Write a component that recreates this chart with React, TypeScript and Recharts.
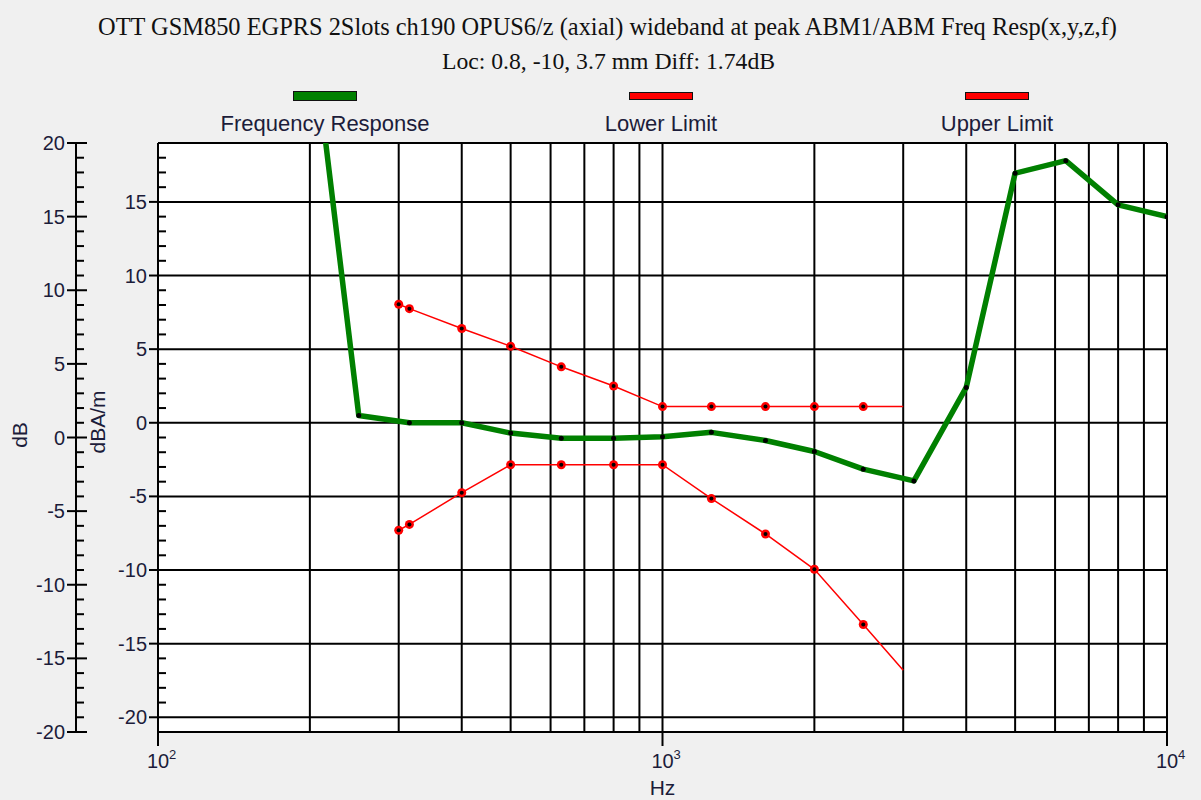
import React from 'react';
import { LineChart, Line, XAxis, YAxis, CartesianGrid } from 'recharts';

// third-octave frequencies of the measured response (Hz)
const respFreqs = [200, 250, 315, 400, 500, 630, 800, 1000, 1250, 1600, 2000, 2500, 3150, 4000, 5000, 6300, 8000, 10000];
const respDb = [27.9, 0.5, 0.0, 0.0, -0.7, -1.05, -1.05, -0.95, -0.65, -1.2, -1.95, -3.15, -3.95, 2.4, 16.95, 17.8, 14.8, 14.0];

const limitFreqs = [300, 315, 400, 500, 630, 800, 1000, 1250, 1600, 2000, 2500, 3000];
const lowerDb = [-7.3, -6.9, -4.75, -2.85, -2.85, -2.85, -2.85, -5.15, -7.55, -9.95, -13.7, -16.8];
const upperDb = [8.05, 7.75, 6.4, 5.2, 3.8, 2.5, 1.1, 1.1, 1.1, 1.1, 1.1, 1.1];

const xTicks = [100, 1000, 10000];
const xGrid = [100, 200, 300, 400, 500, 600, 700, 800, 900, 1000, 2000, 3000, 4000, 5000, 6000, 7000, 8000, 9000, 10000];
const innerGrid = [19, 15, 10, 5, 0, -5, -10, -15, -20, -21];
const innerTicks = Array.from({ length: 41 }, (_, i) => 19 - i);
const outerTicks = Array.from({ length: 41 }, (_, i) => 20 - i);

const respData = respFreqs.map((f, i) => ({ f, v: respDb[i] }));
const lowerData = limitFreqs.map((f, i) => ({ f, v: lowerDb[i] }));
const upperData = limitFreqs.map((f, i) => ({ f, v: upperDb[i] }));

const SANS = '"Liberation Sans", Arial, sans-serif';
const SERIF = '"Liberation Serif", "Times New Roman", serif';
const TXT = '#1c1c3a';

const InnerTick = ({ x, y, payload }: any) => {
  const v = payload.value;
  if (v === 19 || v === -21) return <g />;
  const major = v % 5 === 0;
  return (
    <g>
      {major ? (
        <>
          <line x1={x - 9} x2={x} y1={y} y2={y} stroke="#000" strokeWidth={2} />
          <text x={x - 11} y={y} dy={7} textAnchor="end" fontFamily={SANS} fontSize={20} fill={TXT}>{v}</text>
        </>
      ) : (
        <line x1={x} x2={x + 8} y1={y} y2={y} stroke="#000" strokeWidth={2} />
      )}
    </g>
  );
};

const OuterTick = ({ x, y, payload }: any) => {
  const v = payload.value;
  const major = v % 5 === 0;
  return (
    <g>
      {major ? (
        <>
          <line x1={x - 9} x2={x + 11} y1={y} y2={y} stroke="#000" strokeWidth={2} />
          <text x={x - 11} y={y} dy={7} textAnchor="end" fontFamily={SANS} fontSize={20} fill={TXT}>{v}</text>
        </>
      ) : (
        <line x1={x} x2={x + 8} y1={y} y2={y} stroke="#000" strokeWidth={2} />
      )}
    </g>
  );
};

const XTick = ({ x, y, payload }: any) => {
  const exp = Math.round(Math.log10(payload.value));
  return (
    <g fontFamily={SANS} fill={TXT}>
      <text x={x} y={y} dy={20} textAnchor="middle" fontSize={20}>10</text>
      <text x={x + 11} y={y} dy={11} textAnchor="start" fontSize={13}>{exp}</text>
    </g>
  );
};

const RespDot = ({ cx, cy, index }: any) => (
  <circle key={`rd${index}`} cx={cx} cy={cy} r={2.5} fill="#000" />
);

const LimitDot = ({ cx, cy, index }: any) => {
  if (index === limitFreqs.length - 1) return <g key={`ld${index}`} />;
  return (
    <g key={`ld${index}`}>
      <circle cx={cx} cy={cy} r={4.5} fill="#ff0000" />
      <circle cx={cx} cy={cy} r={2} fill="#000" />
    </g>
  );
};

const legendItems = [
  { name: 'Frequency Response', color: '#008000', cx: 325, h: 10 },
  { name: 'Lower Limit', color: '#ff0000', cx: 661, h: 8 },
  { name: 'Upper Limit', color: '#ff0000', cx: 997, h: 8 },
];

export default function App() {
  return (
    <div style={{ position: 'absolute', left: 0, top: 0, width: 1201, height: 800, background: '#f0f0f0', overflow: 'hidden' }}>
      <div style={{ position: 'absolute', left: 7, top: 13, width: 1201, textAlign: 'center', fontFamily: SERIF, fontSize: 24.4, color: '#111', whiteSpace: 'nowrap' }}>
        OTT GSM850 EGPRS 2Slots ch190 OPUS6/z (axial) wideband at peak ABM1/ABM Freq Resp(x,y,z,f)
      </div>
      <div style={{ position: 'absolute', left: 8, top: 48, width: 1201, textAlign: 'center', fontFamily: SERIF, fontSize: 23.7, color: '#111', whiteSpace: 'nowrap' }}>
        Loc: 0.8, -10, 3.7 mm Diff: 1.74dB
      </div>
      {legendItems.map((it) => (
        <React.Fragment key={it.name}>
          <div style={{ position: 'absolute', left: it.cx - 32, top: it.h === 10 ? 91 : 92, width: 62, height: it.h - 2, background: it.color, border: '1px solid #111' }} />
          <div style={{ position: 'absolute', left: it.cx - 150, top: 111, width: 300, textAlign: 'center', fontFamily: SANS, fontSize: 22, color: TXT }}>
            {it.name}
          </div>
        </React.Fragment>
      ))}
      <div style={{ position: 'absolute', left: 0, top: 0 }}>
        <LineChart width={1201} height={800} margin={{ top: 143, right: 34, left: 0, bottom: 0 }}>
          <CartesianGrid
            xAxisId="x"
            yAxisId="inner"
            horizontalValues={innerGrid}
            verticalValues={xGrid}
            stroke="#000"
            strokeWidth={2}
            fill="#ffffff"
            fillOpacity={1}
          />
          <XAxis
            xAxisId="x"
            dataKey="f"
            type="number"
            scale="log"
            domain={[100, 10000]}
            allowDataOverflow
            ticks={xTicks}
            interval={0}
            height={68}
            tickSize={14}
            tickLine={{ stroke: '#000', strokeWidth: 2 }}
            axisLine={{ stroke: '#000', strokeWidth: 2 }}
            tick={<XTick />}
            label={({ viewBox }: any) => (
              <text x={viewBox.x + viewBox.width / 2} y={viewBox.y + 63} textAnchor="middle" fontFamily={SANS} fontSize={21} fill={TXT}>Hz</text>
            )}
          />
          <YAxis
            yAxisId="inner"
            type="number"
            domain={[-21, 19]}
            allowDataOverflow
            ticks={innerTicks}
            interval={0}
            width={82}
            tickSize={0}
            tickMargin={0}
            tickLine={false}
            axisLine={{ stroke: '#000', strokeWidth: 2 }}
            tick={<InnerTick />}
            label={({ viewBox }: any) => (
              <text x={viewBox.x + 29} y={viewBox.y + 279} transform={`rotate(-90 ${viewBox.x + 29} ${viewBox.y + 279})`} textAnchor="middle" fontFamily={SANS} fontSize={21} fill={TXT}>dBA/m</text>
            )}
          />
          <YAxis
            yAxisId="outer"
            type="number"
            domain={[-20, 20]}
            allowDataOverflow
            ticks={outerTicks}
            interval={0}
            width={76}
            tickSize={0}
            tickMargin={0}
            tickLine={false}
            axisLine={{ stroke: '#000', strokeWidth: 2 }}
            tick={<OuterTick />}
            label={({ viewBox }: any) => (
              <text x={viewBox.x + 27} y={viewBox.y + 292} transform={`rotate(-90 ${viewBox.x + 27} ${viewBox.y + 292})`} textAnchor="middle" fontFamily={SANS} fontSize={21} fill={TXT}>dB</text>
            )}
          />
          <Line xAxisId="x" yAxisId="inner" data={lowerData} dataKey="v" type="linear" stroke="#ff0000" strokeWidth={1.5} dot={LimitDot} activeDot={false} isAnimationActive={false} />
          <Line xAxisId="x" yAxisId="inner" data={upperData} dataKey="v" type="linear" stroke="#ff0000" strokeWidth={1.5} dot={LimitDot} activeDot={false} isAnimationActive={false} />
          <Line xAxisId="x" yAxisId="inner" data={respData} dataKey="v" type="linear" stroke="#008000" strokeWidth={5.5} strokeLinejoin="round" dot={RespDot} activeDot={false} isAnimationActive={false} />
        </LineChart>
      </div>
    </div>
  );
}
